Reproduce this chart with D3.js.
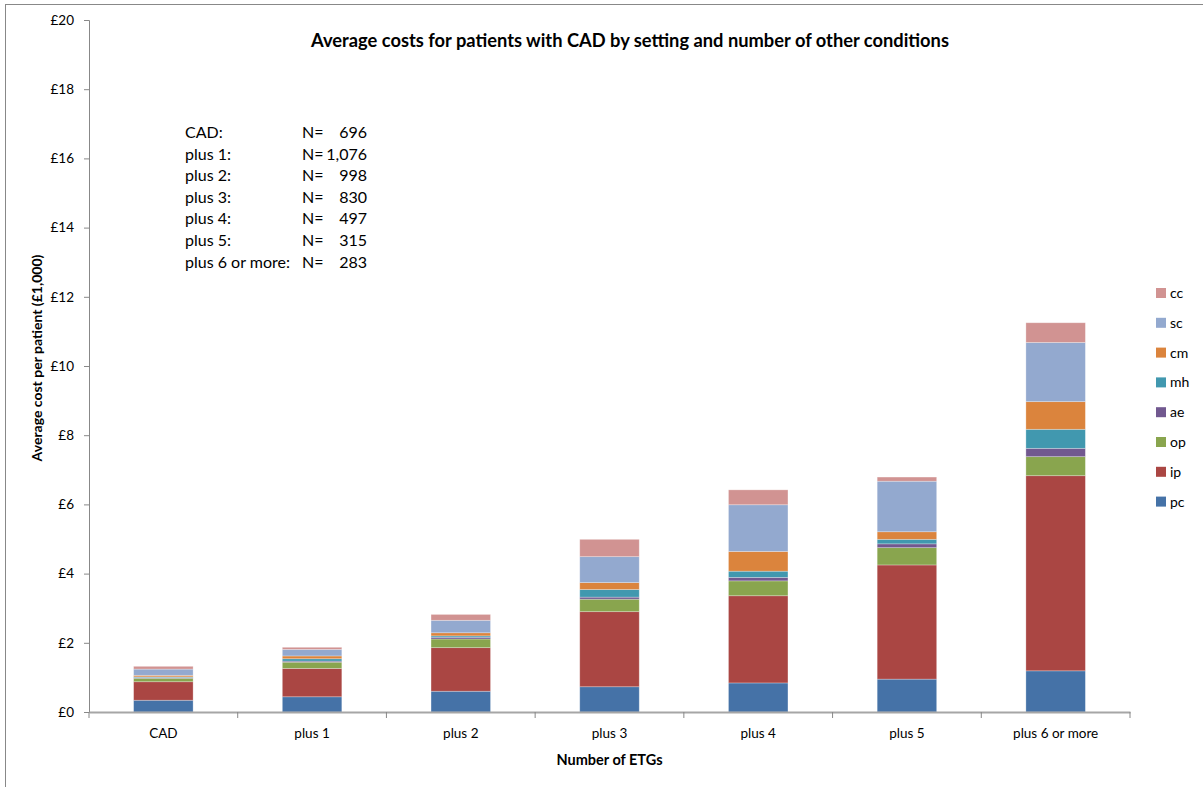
<!DOCTYPE html>
<html><head><meta charset="utf-8">
<script src="https://cdn.jsdelivr.net/npm/d3@7"></script>
<style>body{margin:0;background:#fff}svg text{font-family:Lato,"Open Sans",sans-serif}</style>
</head><body><svg id="c" width="1203" height="787"></svg>
<script>
const categories = ["CAD","plus 1","plus 2","plus 3","plus 4","plus 5","plus 6 or more"];
const seriesNames = ["pc","ip","op","ae","mh","cm","sc","cc"];
const seriesColors = ["#4572A7","#AA4643","#89A54E","#71588F","#4198AF","#DB843D","#93A9CF","#D19392"];
const pc = [0.34,0.44,0.60,0.73,0.84,0.95,1.19];
const ip = [0.535,0.82,1.26,2.17,2.52,3.30,5.64];
const op = [0.10,0.18,0.25,0.36,0.43,0.50,0.55];
const ae = [0.02,0.03,0.05,0.06,0.10,0.11,0.24];
const mh = [0.02,0.07,0.04,0.22,0.18,0.13,0.55];
const cm = [0.045,0.08,0.09,0.20,0.57,0.22,0.80];
const sc = [0.18,0.19,0.36,0.75,1.35,1.46,1.71];
const cc = [0.08,0.06,0.17,0.50,0.43,0.12,0.57];
const yTicks = [0,2,4,6,8,10,12,14,16,18,20];
const nLabels = ["CAD:","plus 1:","plus 2:","plus 3:","plus 4:","plus 5:","plus 6 or more:"];
const nValues = ["696","1,076","998","830","497","315","283"];

const seriesVals = [pc,ip,op,ae,mh,cm,sc,cc];
const table = categories.map((c,i)=>{const o={cat:c};seriesNames.forEach((s,j)=>o[s]=seriesVals[j][i]);return o;});
const stack = d3.stack().keys(seriesNames)(table);

const svg = d3.select("#c");
const L=89, R=1130, T=20, B=712;
const x = d3.scaleBand().domain(categories).range([L,R]).paddingInner(0.6).paddingOuter(0.3);
const xb = d3.scaleBand().domain(categories).range([L,R]);
const y = d3.scaleLinear().domain([0,20]).range([B,T]);
const color = d3.scaleOrdinal().domain(seriesNames).range(seriesColors);

svg.append("rect").attr("x",5.5).attr("y",4.5).attr("width",1205).attr("height",800)
  .attr("fill","none").attr("stroke","#888").attr("stroke-width",1);

// bars
svg.append("g").selectAll("g").data(stack).join("g").attr("fill",d=>color(d.key))
  .selectAll("rect").data(d=>d).join("rect")
  .attr("x",d=>x(d.data.cat)).attr("width",x.bandwidth())
  .attr("y",d=>y(d[1])).attr("height",d=>y(d[0])-y(d[1]))
  .attr("stroke","rgba(255,255,255,0.35)").attr("stroke-width",0.8);

// y axis
const ya = svg.append("g").attr("transform",`translate(${L},0)`)
  .call(d3.axisLeft(y).tickValues(yTicks).tickSize(5).tickPadding(10).tickFormat(d=>"£"+d));
ya.select(".domain").attr("stroke","#888");
ya.selectAll(".tick line").attr("stroke","#888");
ya.selectAll("text").attr("font-size",13.5).attr("fill","#000");

// x axis
const xa = svg.append("g").attr("transform",`translate(0,${B})`)
  .call(d3.axisBottom(xb).tickSize(0).tickPadding(16));
xa.select(".domain").attr("stroke","#a6a6a6").attr("stroke-width",2);
xa.selectAll("text").attr("font-size",13.5).attr("fill","#000");
svg.append("g").selectAll("line").data(d3.range(categories.length+1)).join("line")
  .attr("x1",i=>L+i*xb.step()).attr("x2",i=>L+i*xb.step())
  .attr("y1",B).attr("y2",B+6).attr("stroke","#888");

// titles
svg.append("text").attr("x",630).attr("y",47).attr("text-anchor","middle")
  .attr("font-weight","bold").attr("font-size",18.3)
  .text("Average costs for patients with CAD by setting and number of other conditions");
svg.append("text").attr("x",(L+R)/2).attr("y",765).attr("text-anchor","middle")
  .attr("font-weight","bold").attr("font-size",14.5).text("Number of ETGs");
svg.append("text").attr("transform",`translate(42,358) rotate(-90)`).attr("text-anchor","middle")
  .attr("font-weight","bold").attr("font-size",14).text("Average cost per patient (£1,000)");

// N annotation
const ann = svg.append("g");
nLabels.forEach((t,i)=>{
  const yy = 138 + i*21.6;
  ann.append("text").attr("x",185).attr("y",yy).attr("font-size",16).text(t);
  ann.append("text").attr("x",302).attr("y",yy).attr("font-size",16).text("N=");
  ann.append("text").attr("x",367).attr("y",yy).attr("font-size",16).attr("text-anchor","end").text(nValues[i]);
});

// legend
const lg = svg.append("g");
seriesNames.slice().reverse().forEach((s,i)=>{
  const yy = 293 + i*29.8;
  lg.append("rect").attr("x",1156).attr("y",yy-5).attr("width",10).attr("height",10).attr("fill",color(s));
  lg.append("text").attr("x",1170).attr("y",yy+5).attr("font-size",14).text(s);
});
</script></body></html>
